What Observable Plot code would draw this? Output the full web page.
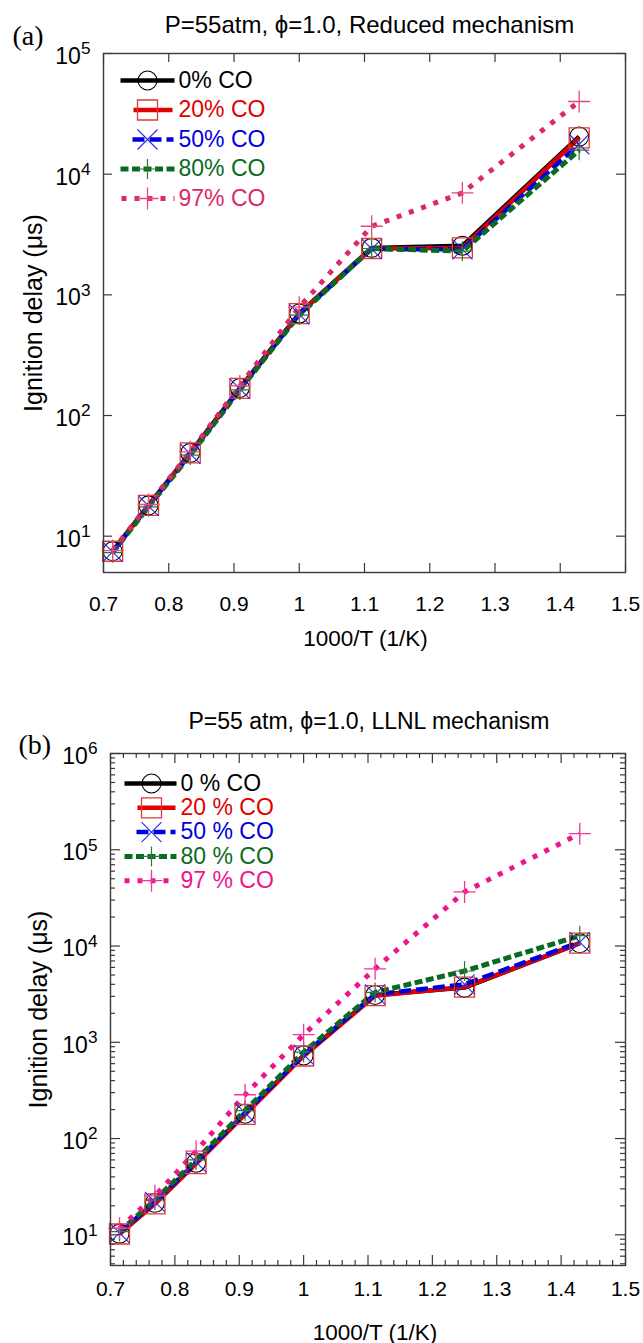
<!DOCTYPE html>
<html><head><meta charset="utf-8">
<script src="https://cdn.jsdelivr.net/npm/d3@7"></script>
<script src="https://cdn.jsdelivr.net/npm/@observablehq/plot@0.6"></script>
<style>
html,body{margin:0;padding:0;background:#fff;}
#wrap{width:643px;}
#wrap svg{display:block;}
</style></head><body><div id="wrap"></div>
<script>
// ---- data ----
const invT = [0.714, 0.769, 0.833, 0.909, 1.0, 1.111, 1.25, 1.429];

const namesA = ["0% CO", "20% CO", "50% CO", "80% CO", "97% CO"];
const namesB = ["0 % CO", "20 % CO", "50 % CO", "80 % CO", "97 % CO"];

// Panel (a): Reduced mechanism
const a_co0  = [7.5, 18.0, 49, 169, 700, 2450, 2550, 20500];
const a_co20 = [7.5, 18.0, 49, 168, 700, 2420, 2450, 20000];
const a_co50 = [7.4, 17.8, 48, 166, 690, 2400, 2380, 17700];
const a_co80 = [7.3, 17.5, 47, 163, 680, 2420, 2300, 15800];
const a_co97 = [7.6, 18.3, 50, 176, 790, 3700, 7000, 40000];

// Panel (b): LLNL mechanism
const b_co0  = [10.3, 21.5, 56, 181, 730, 3100, 3700, 10700];
const b_co20 = [10.2, 21.0, 55, 178, 720, 3050, 3750, 10700];
const b_co50 = [10.5, 22.0, 57, 185, 745, 3150, 4000, 11000];
const b_co80 = [10.8, 23.0, 60, 195, 790, 3300, 5500, 12800];
const b_co97 = [11.7, 25.4, 74, 285, 1200, 5800, 36500, 147000];

const titleA = "P=55atm, \u03D5=1.0, Reduced mechanism";
const titleB = "P=55 atm, \u03D5=1.0, LLNL mechanism";
const xLabel = "1000/T (1/K)";
const yLabel = "Ignition delay (\u03BCs)";

const xTickValues = [0.7, 0.8, 0.9, 1.0, 1.1, 1.2, 1.3, 1.4, 1.5];
const xTickLabels = ["0.7", "0.8", "0.9", "1", "1.1", "1.2", "1.3", "1.4", "1.5"];
const yTicksA = [1e1, 1e2, 1e3, 1e4, 1e5];
const yExpA = ["1", "2", "3", "4", "5"];
const yTicksB = [1e1, 1e2, 1e3, 1e4, 1e5, 1e6];
const yExpB = ["1", "2", "3", "4", "5", "6"];

// ---- styles ----
const FONT = "Liberation Sans, Arial, Helvetica, sans-serif";
const SERIF = "Liberation Serif, Times New Roman, serif";

function segSym(a, b) { return {draw(c) { c.moveTo(a, 0); c.lineTo(b, 0); }}; }
const symCircle = {draw(c) { c.moveTo(9.5, 0); c.arc(0, 0, 9.5, 0, 2 * Math.PI); }};
const symSquare = {draw(c) { c.rect(-10, -10, 20, 20); }};
const symTimes = {draw(c) { c.moveTo(-10, -10); c.lineTo(10, 10); c.moveTo(-10, 10); c.lineTo(10, -10); }};
const symPlus = {draw(c) { c.moveTo(-10, 0); c.lineTo(10, 0); c.moveTo(0, -10); c.lineTo(0, 10); }};
const symPlusL = {draw(c) { c.moveTo(-11, 0); c.lineTo(11, 0); c.moveTo(0, -11); c.lineTo(0, 11); }};
const markerSyms = [symCircle, symSquare, symTimes, symPlus, symPlusL];

function buildPanel(cfg) {
  const W = 643;
  const fw = W - cfg.ml - cfg.mr, fh = cfg.h - cfg.mt - cfg.mb;
  const marks = [];
  const rows = [];
  cfg.series.forEach((vals, s) => vals.forEach((v, i) => rows.push({s, x: invT[i], y: v})));

  // lines
  cfg.series.forEach((vals, s) => {
    const st = cfg.lineStyles[s];
    marks.push(Plot.line(rows.filter(r => r.s === s), {
      x: "x", y: "y", stroke: cfg.colors[s], strokeWidth: st.w,
      strokeDasharray: st.dash, strokeLinecap: "butt", strokeLinejoin: "round"
    }));
  });
  // markers
  cfg.series.forEach((vals, s) => {
    marks.push(Plot.dot(rows.filter(r => r.s === s), {
      x: "x", y: "y", symbol: markerSyms[s], fill: "none",
      stroke: cfg.markerColors[s], strokeWidth: cfg.markerWidths[s]
    }));
  });

  // frame + inward ticks
  const tc = "#3a3a3a";
  marks.push(Plot.frame({stroke: tc, strokeWidth: 1.4}));
  const L = cfg.tickLen, Lm = cfg.minorLen;
  const xt = (vals, len) => [
    Plot.tickX(vals, {x: d => d, insetTop: fh - len, stroke: tc, strokeWidth: 1.2}),
    Plot.tickX(vals, {x: d => d, insetBottom: fh - len, stroke: tc, strokeWidth: 1.2})
  ];
  const yt = (vals, len) => [
    Plot.tickY(vals, {y: d => d, insetRight: fw - len, stroke: tc, strokeWidth: 1.2}),
    Plot.tickY(vals, {y: d => d, insetLeft: fw - len, stroke: tc, strokeWidth: 1.2})
  ];
  marks.push(...xt(xTickValues, L), ...yt(cfg.yTicks, L));
  if (cfg.xMinor) marks.push(...xt(cfg.xMinor, Lm));
  if (cfg.yMinor) marks.push(...yt(cfg.yMinor, Lm));

  // axis labels
  const xLab = new Map(xTickValues.map((v, i) => [v, xTickLabels[i]]));
  const yLab = new Map(cfg.yTicks.map((v, i) => [v, "10|" + cfg.yExp[i]]));
  marks.push(Plot.axisX(xTickValues, {anchor: "bottom", tickSize: 0, tickPadding: cfg.xPad,
    tickFormat: d => xLab.get(d), label: null, fontSize: 21}));
  marks.push(Plot.axisY(cfg.yTicks, {anchor: "left", tickSize: 0, tickPadding: 13, dy: 3,
    tickFormat: d => yLab.get(d), label: null, fontSize: 23}));

  // titles and labels
  marks.push(Plot.text([cfg.title], {frameAnchor: "top", dx: cfg.titleDx, dy: cfg.titleDy,
    lineAnchor: "middle", textAnchor: "middle", fontSize: cfg.titleSize}));
  marks.push(Plot.text([xLabel], {frameAnchor: "bottom", dx: cfg.xLabDx, dy: cfg.xLabDy,
    lineAnchor: "middle", textAnchor: "middle", fontSize: 22.5}));
  marks.push(Plot.text([yLabel], {frameAnchor: "left", dx: cfg.yLabDx, rotate: -90,
    lineAnchor: "middle", textAnchor: "middle", fontSize: 25}));
  marks.push(Plot.text([cfg.tag], {frameAnchor: "top-left", dx: cfg.tagDx, dy: cfg.tagDy,
    textAnchor: "start", lineAnchor: "middle", fontFamily: SERIF, fontSize: 28}));

  // legend
  cfg.names.forEach((name, s) => {
    const ly = cfg.leg.y0 + s * cfg.leg.step;
    const st = cfg.lineStyles[s];
    const seg = cfg.leg.segs[s];
    marks.push(Plot.dot([name], {frameAnchor: "top-left", dx: cfg.leg.mx, dy: ly,
      symbol: segSym(seg[0], seg[1]), fill: "none", stroke: cfg.colors[s], strokeWidth: st.w,
      strokeDasharray: st.dash, strokeLinecap: "butt"}));
    marks.push(Plot.dot([name], {frameAnchor: "top-left", dx: cfg.leg.mx, dy: ly,
      symbol: markerSyms[s], fill: "none", stroke: cfg.markerColors[s], strokeWidth: cfg.markerWidths[s]}));
    marks.push(Plot.text([name], {frameAnchor: "top-left", dx: cfg.leg.tx, dy: ly,
      textAnchor: "start", lineAnchor: "middle", fill: cfg.textColors[s], fontSize: 23}));
  });

  const svg = Plot.plot({
    width: W, height: cfg.h,
    marginTop: cfg.mt, marginBottom: cfg.mb, marginLeft: cfg.ml, marginRight: cfg.mr,
    style: {fontFamily: FONT, fontSize: "20px", background: "white", overflow: "visible", color: "black"},
    x: {domain: [0.7, 1.5]},
    y: {type: "log", domain: cfg.yDomain},
    marks
  });

  // superscript exponents on y tick labels
  svg.querySelectorAll('g[aria-label="y-axis tick label"] text').forEach(t => {
    const s = t.textContent;
    if (!s.includes("|")) return;
    const [base, exp] = s.split("|");
    t.textContent = base;
    const ts = document.createElementNS("http://www.w3.org/2000/svg", "tspan");
    ts.setAttribute("font-size", "0.75em");
    ts.setAttribute("dy", "-0.55em");
    ts.textContent = exp;
    t.appendChild(ts);
  });
  return svg;
}

const lineStylesA = [{w: 4.5, dash: null}, {w: 4.5, dash: null}, {w: 4.5, dash: "12,5"}, {w: 5, dash: "8,3.5"}, {w: 5, dash: "5,8"}];
const lineStylesB = [{w: 4.5, dash: null}, {w: 4.5, dash: null}, {w: 4.5, dash: "12,5"}, {w: 5, dash: "8,3.5"}, {w: 5, dash: "5,8"}];

const colorsA = ["#000000", "#e00000", "#0000dd", "#0b6a22", "#dc2a64"];
const colorsB = ["#000000", "#e00000", "#0000dd", "#0b6a22", "#f0148c"];

const yMinorB = [];
[1, 10, 100, 1000, 10000, 100000].forEach(d => [2,3,4,5,6,7,8,9].forEach(m => { const v = d * m; if (v >= 4.8 && v < 1e6) yMinorB.push(v); }));
const xMinorB = d3.range(0, 41).map(i => 0.7 + i * 0.02).filter((v, i) => i % 5 !== 0);

const wrap = document.getElementById("wrap");
wrap.appendChild(buildPanel({
  h: 660, mt: 53, mb: 88, ml: 103, mr: 18,
  yDomain: [5, 1e5], yTicks: yTicksA, yExp: yExpA,
  series: [a_co0, a_co20, a_co50, a_co80, a_co97],
  names: namesA, colors: colorsA, textColors: colorsA,
  markerColors: ["#000000", "#e03a3a", "#2a2aee", "#2a7a3a", "#e8487e"],
  markerWidths: [1.1, 1.3, 1.1, 1.2, 1.3],
  lineStyles: lineStylesA,
  tickLen: 9, minorLen: 5, xPad: 24,
  title: titleA, titleSize: 24, titleDx: 5, titleDy: -28,
  xLabDx: 1, xLabDy: 66, yLabDx: -70,
  tag: "(a)", tagDx: -91, tagDy: -17,
  leg: {y0: 27, step: 29.5, mx: 44, tx: 75, segs: [[-27, 27], [-14, 25], [-15, 26], [-27, 27], [-26, 27]]}
}));
wrap.appendChild(buildPanel({
  h: 683, mt: 93, mb: 78, ml: 110, mr: 18,
  yDomain: [4.8, 1e6], yTicks: yTicksB, yExp: yExpB,
  series: [b_co0, b_co20, b_co50, b_co80, b_co97],
  names: namesB, colors: colorsB, textColors: colorsB,
  markerColors: ["#000000", "#e03a3a", "#2a2aee", "#2a7a3a", "#f0389c"],
  markerWidths: [1.1, 1.3, 1.1, 1.2, 1.3],
  lineStyles: lineStylesB,
  xMinor: xMinorB, yMinor: yMinorB,
  tickLen: 10, minorLen: 5, xPad: 16,
  title: titleB, titleSize: 23, titleDx: 1, titleDy: -32,
  xLabDx: 7, xLabDy: 67, yLabDx: -72,
  tag: "(b)", tagDx: -92, tagDy: -8,
  leg: {y0: 30, step: 24.3, mx: 41, tx: 70, segs: [[-27, 25], [-14, 24], [-15, 24], [-27, 25], [-27, 25]]}
}));
</script></body></html>
